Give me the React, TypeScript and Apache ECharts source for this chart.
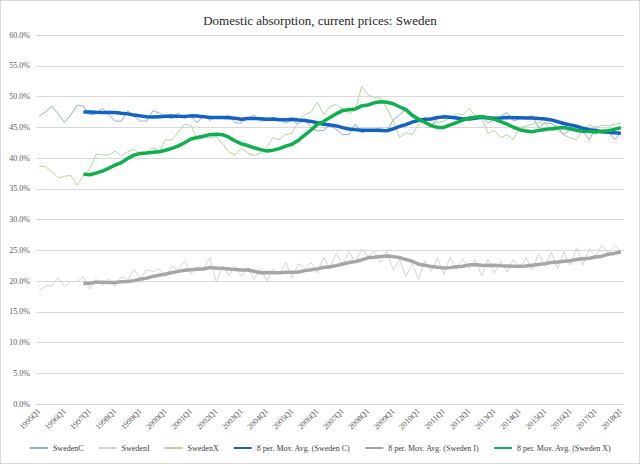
import React, { useEffect, useRef } from "react";
import * as echarts from "echarts";

const years = [1995, 1996, 1997, 1998, 1999, 2000, 2001, 2002, 2003, 2004, 2005, 2006, 2007, 2008, 2009, 2010, 2011, 2012, 2013, 2014, 2015, 2016, 2017, 2018];
const quarters = ["Q1", "Q2", "Q3", "Q4"];

const swedenC = [
  46.8, 47.5, 48.4, 47.2, 45.8, 47.0, 48.6, 48.4, 47.0, 47.2, 48.1, 47.0, 46.0, 46.0, 47.7, 46.8,
  46.0, 46.0, 47.7, 47.3, 46.8, 46.4, 47.3, 46.5, 46.8, 45.7, 47.0, 46.1, 46.8, 46.5, 47.0, 45.7,
  45.7, 46.5, 47.0, 46.0, 46.1, 46.6, 46.3, 45.7, 46.1, 45.5, 46.4, 44.9, 44.4, 44.5, 45.4, 44.6,
  43.8, 43.8, 45.5, 44.1, 44.4, 44.6, 44.9, 44.4, 46.2, 47.0, 47.9, 47.3, 46.6, 46.0, 45.4, 46.3,
  47.0, 46.5, 46.8, 46.2, 46.5, 47.0, 46.7, 45.7, 46.3, 46.8, 47.4, 46.0, 46.4, 46.6, 46.9, 44.9,
  45.7, 45.6, 45.0, 43.8, 44.6, 44.8, 44.2, 43.0, 44.8, 44.0, 44.4, 43.0, 44.1,
];

const swedenI = [
  18.3, 19.2, 19.2, 20.5, 19.1, 19.9, 19.9, 20.7, 18.7, 20.3, 19.2, 20.4, 19.1, 20.7, 20.2, 21.9,
  20.4, 21.8, 21.5, 22.0, 20.7, 22.4, 21.8, 23.3, 21.1, 22.4, 22.0, 23.8, 19.8, 22.4, 20.9, 22.4,
  20.7, 22.3, 20.3, 22.0, 20.0, 22.0, 21.1, 23.1, 20.5, 22.8, 22.0, 23.0, 21.3, 23.9, 22.0, 24.5,
  22.6, 24.8, 23.1, 25.2, 24.0, 24.8, 23.0, 25.0, 21.8, 23.5, 20.7, 22.9, 20.2, 23.3, 21.6, 23.8,
  21.0, 23.9, 21.8, 23.6, 22.0, 23.5, 20.8, 23.5, 21.3, 23.2, 21.5, 23.5, 22.0, 23.8, 21.8, 24.5,
  22.3, 24.7, 22.0, 24.7, 22.6, 25.4, 22.6, 25.2, 24.0, 25.8, 24.5, 25.8, 24.8,
];

const swedenX = [
  38.7, 38.6, 37.8, 36.8, 37.0, 37.2, 35.6, 37.1, 38.2, 40.6, 40.5, 40.5, 41.1, 40.4, 41.0, 41.4,
  40.5, 41.0, 41.7, 41.1, 43.0, 42.9, 44.2, 45.5, 45.3, 43.0, 43.3, 43.2, 43.5, 42.3, 41.0, 40.5,
  41.6, 40.8, 40.4, 40.8, 41.8, 43.3, 43.0, 43.8, 44.0, 46.0, 47.0, 47.5, 49.1, 47.0, 48.4, 48.7,
  48.0, 47.2, 47.8, 51.6, 50.3, 49.8, 49.8, 48.1, 46.0, 43.3, 44.1, 43.8, 45.4, 46.0, 45.4, 45.8,
  46.0, 46.5, 47.2, 47.0, 48.1, 46.8, 46.5, 44.0, 44.5, 43.3, 43.8, 43.0, 44.9, 45.2, 45.5, 45.7,
  45.7, 44.4, 44.6, 43.7, 43.3, 43.0, 44.5, 45.4, 45.0, 45.3, 45.2, 45.5, 45.7,
];

const seriesNames = ["SwedenC", "SwedenI", "SwedenX"];
const maNames = ["8 per. Mov. Avg. (Sweden C)", "8 per. Mov. Avg. (Sweden I)", "8 per. Mov. Avg. (Sweden X)"];
const MA_PERIOD = 8;

const categories: string[] = [];
years.forEach((y) => quarters.forEach((q) => categories.push(`${y}${q}`)));
const cats = categories.slice(0, swedenC.length);

function movingAverage(arr: number[], n: number): (number | null)[] {
  return arr.map((_, i) => {
    if (i < n - 1) return null;
    let s = 0;
    for (let k = i - n + 1; k <= i; k++) s += arr[k];
    return +(s / n).toFixed(3);
  });
}

const FONT = "'Liberation Serif', 'DejaVu Serif', serif";

export default function App() {
  const ref = useRef<HTMLDivElement>(null);
  useEffect(() => {
    if (!ref.current) return;
    const chart = echarts.init(ref.current, null, { renderer: "svg" });
    const raw = [swedenC, swedenI, swedenX];
    const thinColors = ["#8FAADC", "#D4D4D4", "#B5D59E"];
    const maColors = ["#1262C4", "#A6A6A6", "#0DB04B"];
    const series: any[] = [];
    raw.forEach((d, k) => {
      series.push({
        name: seriesNames[k],
        type: "line",
        data: d,
        symbol: "none",
        lineStyle: { width: 1, color: thinColors[k] },
        itemStyle: { color: thinColors[k] },
      });
    });
    raw.forEach((d, k) => {
      series.push({
        name: maNames[k],
        type: "line",
        data: movingAverage(d, MA_PERIOD),
        symbol: "none",
        connectNulls: false,
        lineStyle: { width: 3.5, color: maColors[k] },
        itemStyle: { color: maColors[k] },
      });
    });
    chart.setOption({
      animation: false,
      backgroundColor: "#ffffff",
      title: {
        text: "Domestic absorption, current prices: Sweden",
        left: "center",
        top: 8,
        textStyle: { fontFamily: FONT, fontSize: 13, fontWeight: "normal", color: "#262626" },
      },
      legend: {
        bottom: 6,
        left: "center",
        itemWidth: 18,
        itemHeight: 8,
        itemGap: 14,
        itemStyle: { opacity: 0 },
        data: [...seriesNames, ...maNames].map((n) => ({ name: n })),
        textStyle: { fontFamily: FONT, fontSize: 8, color: "#404040" },
      },
      grid: { left: 35, right: 15, top: 34, bottom: 59, containLabel: false },
      xAxis: {
        type: "category",
        data: cats,
        boundaryGap: true,
        axisLine: { show: true, lineStyle: { color: "#D9D9D9" } },
        axisTick: { show: false },
        axisLabel: {
          interval: 3,
          rotate: 45,
          fontFamily: FONT,
          fontSize: 8,
          color: "#595959",
          margin: 6,
        },
      },
      yAxis: {
        type: "value",
        min: 0,
        max: 60,
        interval: 5,
        axisLine: { show: false },
        axisTick: { show: false },
        splitLine: { lineStyle: { color: "#D9D9D9", width: 1 } },
        axisLabel: {
          formatter: (v: number) => v.toFixed(1) + "%",
          fontFamily: FONT,
          fontSize: 8,
          color: "#595959",
          margin: 6,
        },
      },
      series,
    });
    return () => chart.dispose();
  }, []);
  return (
    <div
      style={{
        position: "absolute",
        left: 0,
        top: 0,
        width: 640,
        height: 464,
        border: "1px solid #D9D9D9",
        boxSizing: "border-box",
        background: "#fff",
      }}
    >
      <div ref={ref} style={{ width: 638, height: 462 }} />
    </div>
  );
}
